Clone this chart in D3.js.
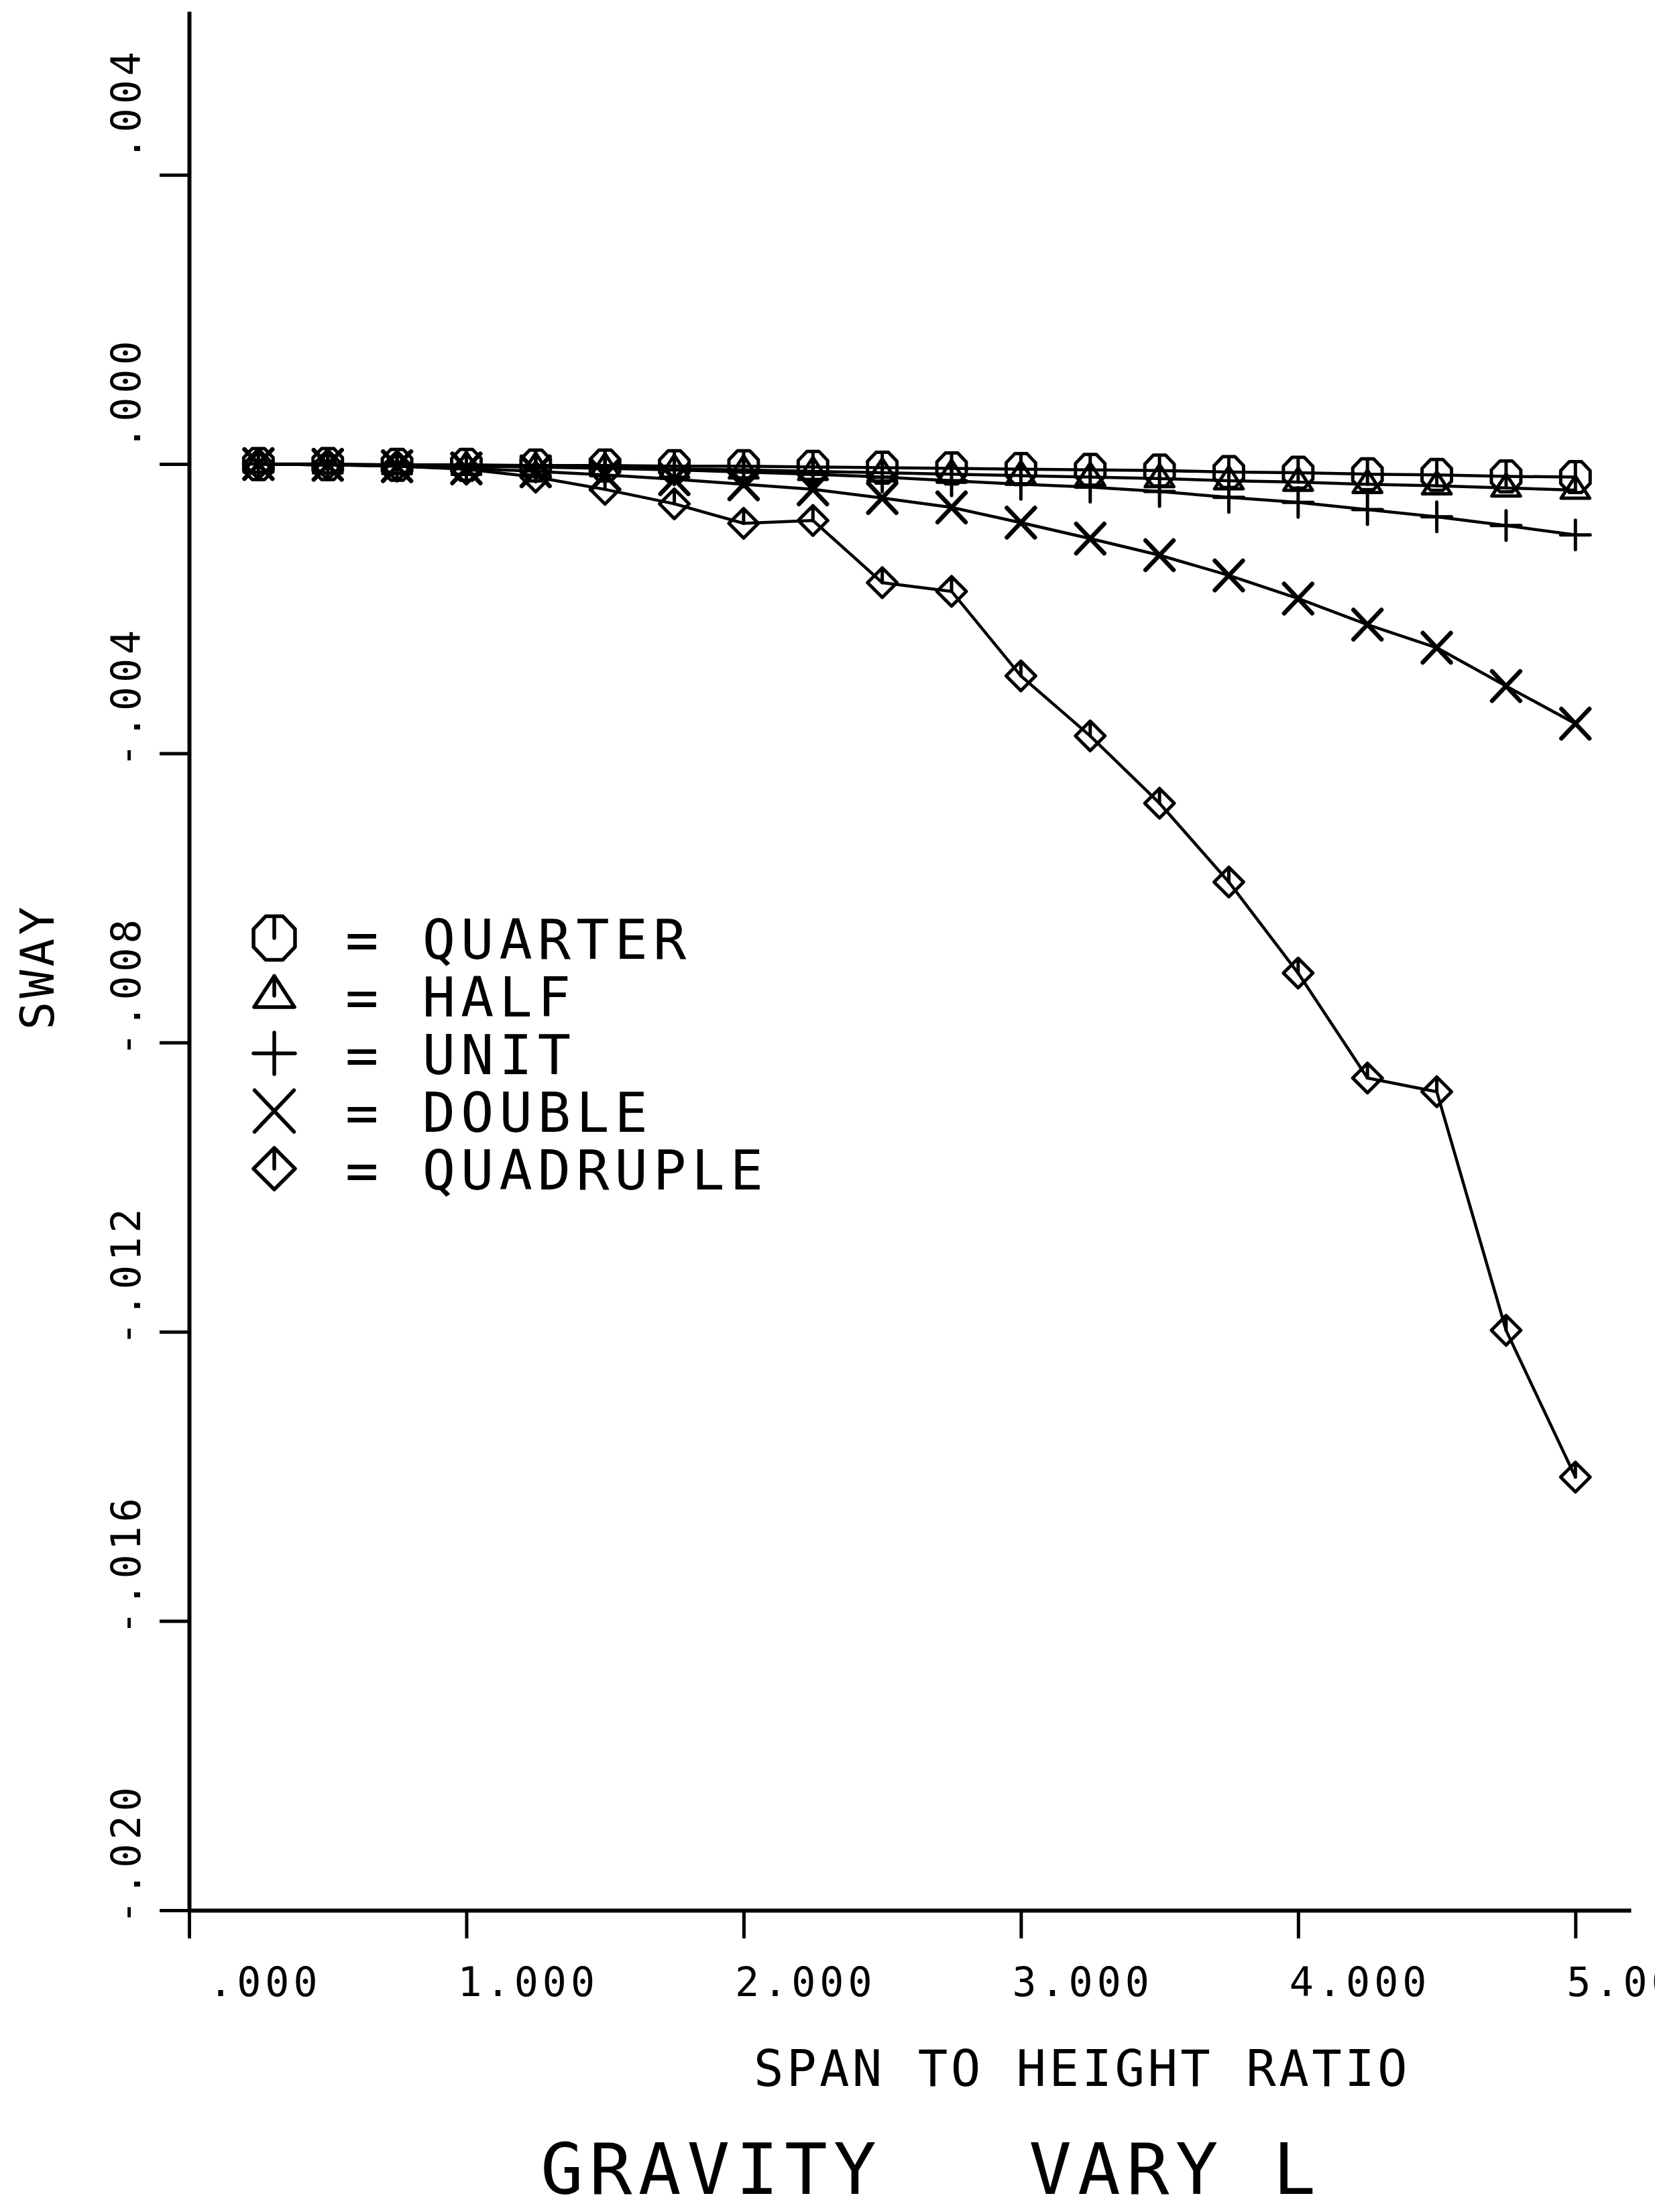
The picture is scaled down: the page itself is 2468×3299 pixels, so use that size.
<!DOCTYPE html>
<html>
<head>
<meta charset="utf-8">
<script src="https://cdn.jsdelivr.net/npm/d3@7"></script>
<style>
  html, body { margin: 0; padding: 0; background: #fff; }
  svg { display: block; }
  text { font-family: "DejaVu Sans Mono", monospace; fill: #000; white-space: pre; }
</style>
</head>
<body>
<script>
// Span-to-height ratio at which each frame was analysed
const spanRatio = [0.25, 0.50, 0.75, 1.00, 1.25, 1.50, 1.75, 2.00, 2.25, 2.50,
                   2.75, 3.00, 3.25, 3.50, 3.75, 4.00, 4.25, 4.50, 4.75, 5.00];

// Sway under gravity load for each load level
const quarter   = [0, 0, -0.00001, -0.00001, -0.00002, -0.00002, -0.00003, -0.00003, -0.00004, -0.00005,
                   -0.00006, -0.00007, -0.00008, -0.00009, -0.00011, -0.00012, -0.00014, -0.00015, -0.00017, -0.00018];
const half      = [0, -0.00001, -0.00002, -0.00003, -0.00004, -0.00005, -0.00007, -0.00008, -0.00010, -0.00012,
                   -0.00014, -0.00016, -0.00018, -0.00020, -0.00023, -0.00025, -0.00028, -0.00030, -0.00033, -0.00036];
const unit      = [0, -0.00001, -0.00001, -0.00002, -0.00004, -0.00006, -0.00008, -0.00011, -0.00014, -0.00018,
                   -0.00023, -0.00028, -0.00032, -0.00038, -0.00046, -0.00053, -0.00063, -0.00073, -0.00085, -0.00098];
const double    = [0, -0.00001, -0.00003, -0.00006, -0.00010, -0.00015, -0.00021, -0.00028, -0.00035, -0.00047,
                   -0.00060, -0.00081, -0.00103, -0.00126, -0.00154, -0.00186, -0.00222, -0.00254, -0.00307, -0.00359];
const quadruple = [0, -0.00001, -0.00003, -0.00007, -0.00018, -0.00035, -0.00055, -0.00082, -0.00078, -0.00164,
                   -0.00176, -0.00293, -0.00376, -0.00469, -0.00578, -0.00704, -0.00849, -0.00868, -0.01198, -0.01401];

const seriesNames   = ["QUARTER", "HALF", "UNIT", "DOUBLE", "QUADRUPLE"];
const seriesSymbols = ["octagon", "triangle", "plus", "cross", "diamond"];
const seriesValues  = [quarter, half, unit, double, quadruple];

const yTickValues = [0.004, 0, -0.004, -0.008, -0.012, -0.016, -0.020];
const yTickLabels = [" .004", " .000", "-.004", "-.008", "-.012", "-.016", "-.020"];
const xTickValues = [0, 1, 2, 3, 4, 5];
const xTickLabels = [" .000", "1.000", "2.000", "3.000", "4.000", "5.000"];

const xTitle = "SPAN TO HEIGHT RATIO";
const yTitle = "SWAY";
const chartTitle = "GRAVITY   VARY L";

const W = 2468, H = 3299;

const svg = d3.select("body").append("svg")
  .attr("width", W).attr("height", H)
  .attr("viewBox", `0 0 ${W} ${H}`);
svg.append("rect").attr("width", W).attr("height", H).attr("fill", "#fff");

// Scales: the y range runs a little above the top tick, as the plotted axis does
const x = d3.scaleLinear().domain([0, 5.2]).range([282, 2432]);
const y = d3.scaleLinear().domain([-0.020, 0.00626]).range([2849, 17]);

// Axes
const yAxisG = svg.append("g")
  .attr("transform", `translate(${x(0)},0)`)
  .attr("color", "#000")
  .call(d3.axisLeft(y).tickValues(yTickValues).tickSize(44).tickSizeOuter(0).tickFormat(""));
const xAxisG = svg.append("g")
  .attr("transform", `translate(0,${y(-0.020)})`)
  .attr("color", "#000")
  .call(d3.axisBottom(x).tickValues(xTickValues).tickSize(42).tickSizeOuter(0).tickFormat(""));
[yAxisG, xAxisG].forEach(g => {
  g.selectAll("path").attr("stroke-width", 6);
  g.selectAll("line").attr("stroke-width", 5);
});

// Tick labels
svg.append("g").selectAll("text").data(yTickValues).join("text")
  .attr("transform", (d) => `translate(209,${y(d) + 21}) rotate(-90)`)
  .attr("font-size", 60).attr("letter-spacing", 6)
  .text((d, i) => yTickLabels[i]);

svg.append("g").selectAll("text").data(xTickValues).join("text")
  .attr("x", d => x(d) - 13).attr("y", 2977)
  .attr("font-size", 60).attr("letter-spacing", 6)
  .text((d, i) => xTickLabels[i]);

// Axis titles and chart title
svg.append("text")
  .attr("transform", "translate(80,1536) rotate(-90)")
  .attr("font-size", 70).attr("letter-spacing", 5)
  .text(yTitle);
svg.append("text")
  .attr("x", 1124).attr("y", 3111)
  .attr("font-size", 74).attr("letter-spacing", 4.4)
  .text(xTitle);
svg.append("text")
  .attr("x", 806).attr("y", 3272)
  .attr("font-size", 106).attr("letter-spacing", 9)
  .text(chartTitle);

// Plotter-style marker outlines, centred on (0,0)
function symbolPath(kind, r) {
  const p = d3.path();
  if (kind === "octagon") {
    const rr = r * 1.08;
    for (let k = 0; k < 8; k++) {
      const a = (22.5 + 45 * k) * Math.PI / 180;
      const px = rr * Math.sin(a), py = -rr * 1.05 * Math.cos(a);
      if (k === 0) p.moveTo(px, py); else p.lineTo(px, py);
    }
    p.closePath();
    p.moveTo(0, -rr * 1.05 * Math.cos(Math.PI / 8));
    p.lineTo(0, 0);
  } else if (kind === "triangle") {
    p.moveTo(0, -0.95 * r);
    p.lineTo(0.97 * r, 0.55 * r);
    p.lineTo(-0.97 * r, 0.55 * r);
    p.closePath();
    p.moveTo(0, -0.95 * r);
    p.lineTo(0, 0);
  } else if (kind === "plus") {
    p.moveTo(-r, 0); p.lineTo(r, 0);
    p.moveTo(0, -r); p.lineTo(0, r);
  } else if (kind === "cross") {
    p.moveTo(-0.95 * r, -r); p.lineTo(0.95 * r, r);
    p.moveTo(0.95 * r, -r); p.lineTo(-0.95 * r, r);
  } else if (kind === "diamond") {
    p.moveTo(0, -r); p.lineTo(r, 0); p.lineTo(0, r); p.lineTo(-r, 0);
    p.closePath();
    p.moveTo(0, -r); p.lineTo(0, 0);
  }
  return p.toString();
}

// Series lines and markers
const line = d3.line().x(d => x(d.x)).y(d => y(d.v));
const plot = svg.append("g");
seriesValues.forEach((vals, s) => {
  const pts = spanRatio.map((sx, i) => ({ x: sx, v: vals[i] }));
  plot.append("path")
    .attr("d", line(pts))
    .attr("fill", "none").attr("stroke", "#000")
    .attr("stroke-width", 4.5).attr("stroke-linejoin", "round");
  plot.append("g").selectAll("path").data(pts).join("path")
    .attr("transform", d => `translate(${x(d.x)},${y(d.v)})`)
    .attr("d", symbolPath(seriesSymbols[s], 22))
    .attr("fill", "none").attr("stroke", "#000")
    .attr("stroke-width", seriesSymbols[s] === "cross" ? 6.5 : 5)
    .attr("stroke-linejoin", "round").attr("stroke-linecap", "round");
});

// Legend
const legend = svg.append("g");
seriesNames.forEach((name, i) => {
  const base = 1430 + i * 86;
  legend.append("path")
    .attr("transform", `translate(409,${base - 31})`)
    .attr("d", symbolPath(seriesSymbols[i], 31))
    .attr("fill", "none").attr("stroke", "#000")
    .attr("stroke-width", 5.5)
    .attr("stroke-linejoin", "round").attr("stroke-linecap", "round");
  legend.append("text")
    .attr("x", 515).attr("y", base)
    .attr("font-size", 82).attr("letter-spacing", 8)
    .text("= " + name);
});
</script>
</body>
</html>
